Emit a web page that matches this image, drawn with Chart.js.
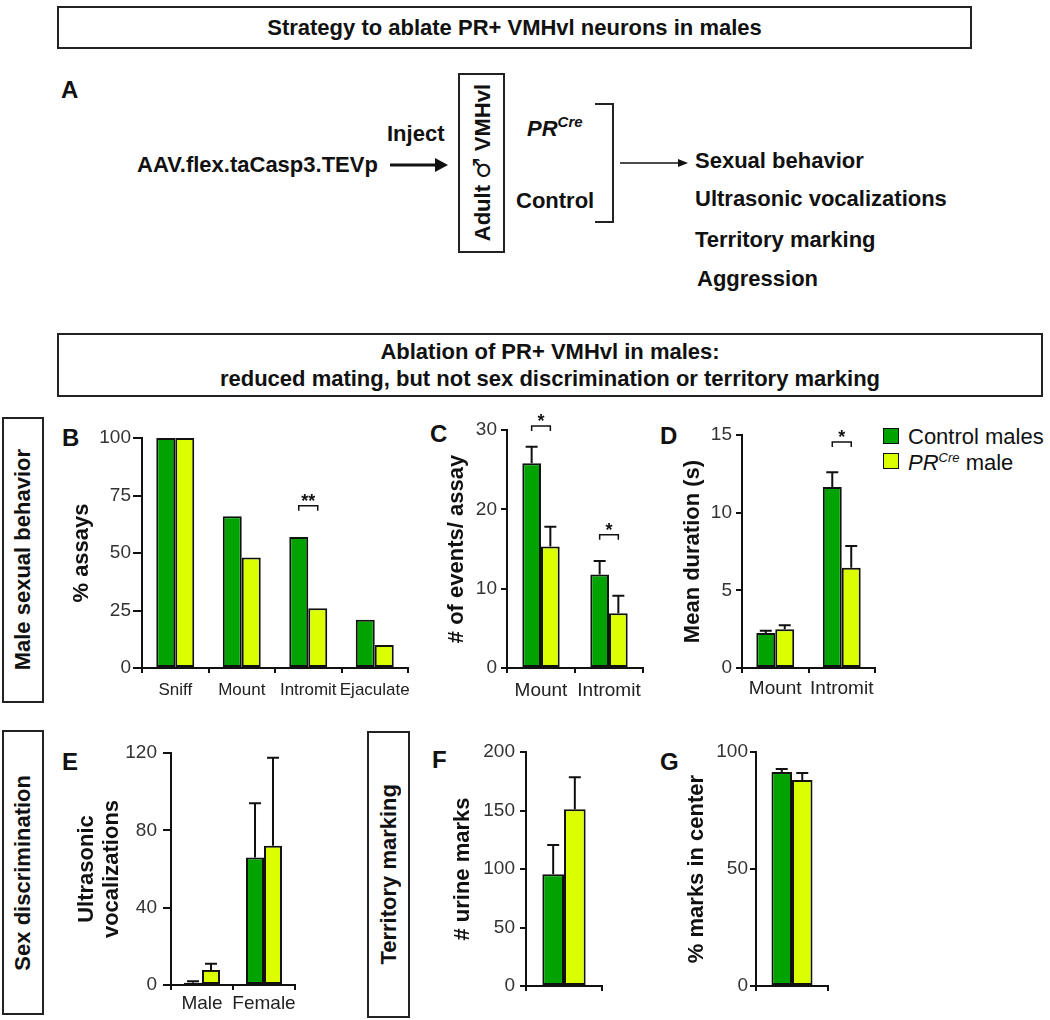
<!DOCTYPE html>
<html>
<head>
<meta charset="utf-8">
<script src="https://cdn.jsdelivr.net/npm/chart.js@4.4.1/dist/chart.umd.min.js"></script>
<style>
  body { margin: 0; background: #fff; }
  #fig { position: relative; width: 1050px; height: 1020px; overflow: hidden;
         font-family: "Liberation Sans", Arial, sans-serif; color: #111; }
  .t { position: absolute; font-weight: bold; font-size: 22px; line-height: 1;
       white-space: nowrap; transform: translateY(-50%); }
  .box { position: absolute; border: 2px solid #222; box-sizing: border-box;
         display: flex; align-items: center; justify-content: center; }
  .v { writing-mode: vertical-rl; text-orientation: sideways; transform: rotate(180deg);
       font-weight: bold; font-size: 22px; white-space: nowrap; line-height: 1; }
  .hd { font-weight: bold; font-size: 22px; text-align: center; line-height: 27px; }
  .sq { position: absolute; width: 16px; height: 16px; border: 1.5px solid #111; box-sizing: border-box; }
  .lg { position: absolute; font-size: 22px; line-height: 1; transform: translateY(-50%); white-space: nowrap; }
  canvas { position: absolute; }
  svg { position: absolute; left: 0; top: 0; }
</style>
</head>
<body>
<div id="fig">
  <svg width="1050" height="330">
    <line x1="390" y1="165" x2="438" y2="165" stroke="#111" stroke-width="3"/>
    <polygon points="435,158 448,165 435,172" fill="#111"/>
    <polyline points="595,104 613,104 613,222 595,222" fill="none" stroke="#222" stroke-width="2"/>
    <line x1="620" y1="163" x2="680" y2="163" stroke="#111" stroke-width="1.5"/>
    <polygon points="678,159 688,163 678,167" fill="#111"/>
  </svg>

  <div class="box" style="left:57px;top:6px;width:915px;height:43px;">
    <div class="hd">Strategy to ablate PR+ VMHvl neurons in males</div>
  </div>
  <div class="t" style="left:61px;top:90px;font-size:24px;">A</div>
  <div class="t" style="left:387px;top:134px;">Inject</div>
  <div class="t" style="left:137px;top:165px;">AAV.flex.taCasp3.TEVp</div>
  <div class="box" style="left:458px;top:73px;width:47px;height:180px;">
    <div class="v">Adult <span style="font-family:'DejaVu Sans';font-weight:normal;font-size:24px;">♂</span> VMHvl</div>
  </div>
  <div class="t" style="left:527px;top:127px;font-style:italic;">PR<sup style="font-size:15px;vertical-align:9px;">Cre</sup></div>
  <div class="t" style="left:516px;top:201px;">Control</div>
  <div class="t" style="left:695px;top:161px;">Sexual behavior</div>
  <div class="t" style="left:695px;top:199px;">Ultrasonic vocalizations</div>
  <div class="t" style="left:695px;top:240px;">Territory marking</div>
  <div class="t" style="left:697px;top:279px;">Aggression</div>

  <div class="box" style="left:57px;top:333px;width:986px;height:64px;">
    <div class="hd">Ablation of PR+ VMHvl in males:<br>reduced mating, but not sex discrimination or territory marking</div>
  </div>

  <div class="box" style="left:2px;top:417px;width:42px;height:286px;"><div class="v">Male sexual behavior</div></div>
  <div class="box" style="left:2px;top:730px;width:42px;height:285px;"><div class="v">Sex discrimination</div></div>
  <div class="box" style="left:367px;top:731px;width:43px;height:287px;"><div class="v">Territory marking</div></div>

  <div class="t" style="left:62px;top:438px;font-size:24px;">B</div>
  <div class="t" style="left:430px;top:434px;font-size:24px;">C</div>
  <div class="t" style="left:660px;top:436px;font-size:24px;">D</div>
  <div class="t" style="left:62px;top:762px;font-size:24px;">E</div>
  <div class="t" style="left:432px;top:760px;font-size:24px;">F</div>
  <div class="t" style="left:660px;top:762px;font-size:24px;">G</div>

  <div class="sq" style="left:883px;top:428px;background:#00A300;"></div>
  <div class="sq" style="left:883px;top:453px;background:#DCFF00;"></div>
  <div class="lg" style="left:908px;top:437px;">Control males</div>
  <div class="lg" style="left:908px;top:462px;"><i>PR<sup style="font-size:13px;vertical-align:8px;">Cre</sup></i> male</div>

  <canvas id="chartB" width="358" height="294" style="left:60px;top:414px;"></canvas>
  <canvas id="chartC" width="213" height="303" style="left:440px;top:405px;"></canvas>
  <canvas id="chartD" width="211" height="293" style="left:672px;top:415px;"></canvas>
  <canvas id="chartE" width="245" height="287" style="left:60px;top:733px;"></canvas>
  <canvas id="chartF" width="172" height="274" style="left:440px;top:732px;"></canvas>
  <canvas id="chartG" width="163" height="274" style="left:675px;top:732px;"></canvas>
</div>

<script>
const FONT = "'Liberation Sans', Arial, sans-serif";
const GREEN = "#00A300";
const YELLOW = "#DCFF00";

// B: % assays
const bLabels = ["Sniff", "Mount", "Intromit", "Ejaculate"];
const bControl = [100, 66, 57, 21];
const bPrCre = [100, 48, 26, 10];
const bTicks = [0, 25, 50, 75, 100];
const bSig = [null, null, "**", null];
const bSigAt = [null, null, 70.5, null];

// C: # of events / assay
const cLabels = ["Mount", "Intromit"];
const cControl = [25.8, 11.8];
const cControlErr = [2.1, 1.7];
const cPrCre = [15.3, 6.9];
const cPrCreErr = [2.5, 2.2];
const cTicks = [0, 10, 20, 30];
const cSig = ["*", "*"];
const cSigAt = [30.5, 16.8];

// D: mean duration (s)
const dLabels = ["Mount", "Intromit"];
const dControl = [2.25, 11.65];
const dControlErr = [0.15, 0.95];
const dPrCre = [2.5, 6.45];
const dPrCreErr = [0.25, 1.4];
const dTicks = [0, 5, 10, 15];
const dSig = [null, "*"];
const dSigAt = [null, 14.55];

// E: ultrasonic vocalizations
const eLabels = ["Male", "Female"];
const eControl = [1.2, 66];
const eControlErr = [0.8, 28];
const ePrCre = [7.8, 72];
const ePrCreErr = [3.2, 45.5];
const eTicks = [0, 40, 80, 120];

// F: # urine marks
const fLabels = [""];
const fControl = [95.5];
const fControlErr = [25];
const fPrCre = [151];
const fPrCreErr = [27.5];
const fTicks = [0, 50, 100, 150, 200];

// G: % marks in center
const gLabels = [""];
const gControl = [91.5];
const gControlErr = [1.2];
const gPrCre = [88];
const gPrCreErr = [3];
const gTicks = [0, 50, 100];

const errorBars = {
  id: "errorBars",
  afterDatasetsDraw(chart) {
    const { ctx } = chart;
    const ys = chart.scales.y;
    chart.data.datasets.forEach((ds, i) => {
      if (!ds.err) return;
      chart.getDatasetMeta(i).data.forEach((bar, j) => {
        const top = ys.getPixelForValue(ds.data[j] + ds.err[j]);
        ctx.save();
        ctx.strokeStyle = "#111";
        ctx.lineWidth = 2;
        ctx.beginPath();
        ctx.moveTo(bar.x, bar.y);
        ctx.lineTo(bar.x, top);
        ctx.moveTo(bar.x - 6, top);
        ctx.lineTo(bar.x + 6, top);
        ctx.stroke();
        ctx.restore();
      });
    });
  }
};

const sigMarks = {
  id: "sigMarks",
  afterDatasetsDraw(chart, args, opts) {
    if (!opts.labels) return;
    const { ctx } = chart;
    const a = chart.getDatasetMeta(0).data;
    const b = chart.getDatasetMeta(1).data;
    opts.labels.forEach((lab, j) => {
      if (!lab) return;
      const y = chart.scales.y.getPixelForValue(opts.levels[j]);
      const x1 = a[j].x, x2 = b[j].x;
      ctx.save();
      ctx.strokeStyle = "#111";
      ctx.lineWidth = 1.5;
      ctx.beginPath();
      ctx.moveTo(x1, y + 5);
      ctx.lineTo(x1, y);
      ctx.lineTo(x2, y);
      ctx.lineTo(x2, y + 5);
      ctx.stroke();
      ctx.fillStyle = "#111";
      ctx.font = "bold 18px " + FONT;
      ctx.textAlign = "center";
      ctx.textBaseline = "middle";
      ctx.fillText(lab, (x1 + x2) / 2, y - 4);
      ctx.restore();
    });
  }
};

function yAxis(ticks, width, title, titlePad, tickLen, tickPad, lineHeight) {
  return {
    min: 0,
    max: ticks[ticks.length - 1],
    afterBuildTicks: (s) => { s.ticks = ticks.map((v) => ({ value: v })); },
    afterFit: (s) => { s.width = width; },
    ticks: { color: "#333", padding: tickPad, font: { size: 19, family: FONT } },
    grid: { drawOnChartArea: false, tickLength: tickLen, color: "#111", lineWidth: 2 },
    border: { color: "#111", width: 2 },
    title: {
      display: true, text: title, color: "#111",
      font: { size: 22, weight: "bold", family: FONT, lineHeight: lineHeight || 1.2 },
      padding: { top: titlePad, bottom: 0 }
    }
  };
}

function xAxis(height, tickPad, fontSize) {
  return {
    offset: true,
    afterFit: (s) => { s.height = height; },
    ticks: { color: "#222", padding: tickPad, maxRotation: 0, autoSkip: false,
             font: { size: fontSize || 19, family: FONT } },
    grid: { offset: true, drawOnChartArea: false, tickLength: 5, color: "#111", lineWidth: 2 },
    border: { color: "#111", width: 2 }
  };
}

function makeChart(id, labels, ctrl, ctrlErr, pr, prErr, cp, x, y, pad, sig) {
  const ds = (data, err, color) => ({
    data: data, err: err, backgroundColor: color, borderColor: "#111",
    borderWidth: 2, borderSkipped: false, barPercentage: 1, categoryPercentage: cp
  });
  return new Chart(document.getElementById(id), {
    type: "bar",
    data: {
      labels: labels,
      datasets: [ds(ctrl, ctrlErr, GREEN), ds(pr, prErr, YELLOW)]
    },
    options: {
      responsive: false,
      animation: false,
      devicePixelRatio: 1,
      layout: { padding: pad },
      scales: { x: x, y: y },
      plugins: {
        legend: { display: false },
        tooltip: { enabled: false },
        sigMarks: sig || {}
      }
    },
    plugins: [errorBars, sigMarks]
  });
}

makeChart("chartB", bLabels, bControl, null, bPrCre, null, 0.571,
  xAxis(40, 7, 17), yAxis(bTicks, 82, "% assays", 9, 9, 2),
  { top: 24, right: 10, left: 0, bottom: 0 }, { labels: bSig, levels: bSigAt });

makeChart("chartC", cLabels, cControl, cControlErr, cPrCre, cPrCreErr, 0.55,
  xAxis(40, 6), yAxis(cTicks, 67, "# of events/ assay", 4, 6, 4),
  { top: 25, right: 10, left: 0, bottom: 0 }, { labels: cSig, levels: cSigAt });

makeChart("chartD", dLabels, dControl, dControlErr, dPrCre, dPrCreErr, 0.57,
  xAxis(40, 4), yAxis(dTicks, 70, "Mean duration (s)", 8, 6, 4),
  { top: 20, right: 8, left: 0, bottom: 0 }, { labels: dSig, levels: dSigAt });

makeChart("chartE", eLabels, eControl, eControlErr, ePrCre, ePrCreErr, 0.58,
  xAxis(35, 2), yAxis(eTicks, 111, ["Ultrasonic", "vocalizations"], 14, 8, 6, 1.15),
  { top: 20, right: 10, left: 0, bottom: 0 });

makeChart("chartF", fLabels, fControl, fControlErr, fPrCre, fPrCreErr, 0.57,
  xAxis(20, 2), yAxis(fTicks, 86, "# urine marks", 10, 6, 5),
  { top: 20, right: 10, left: 0, bottom: 0 });

makeChart("chartG", gLabels, gControl, gControlErr, gPrCre, gPrCreErr, 0.57,
  xAxis(20, 2), yAxis(gTicks, 81, "% marks in center", 9, 6, 2),
  { top: 20, right: 10, left: 0, bottom: 0 });
</script>
</body>
</html>
